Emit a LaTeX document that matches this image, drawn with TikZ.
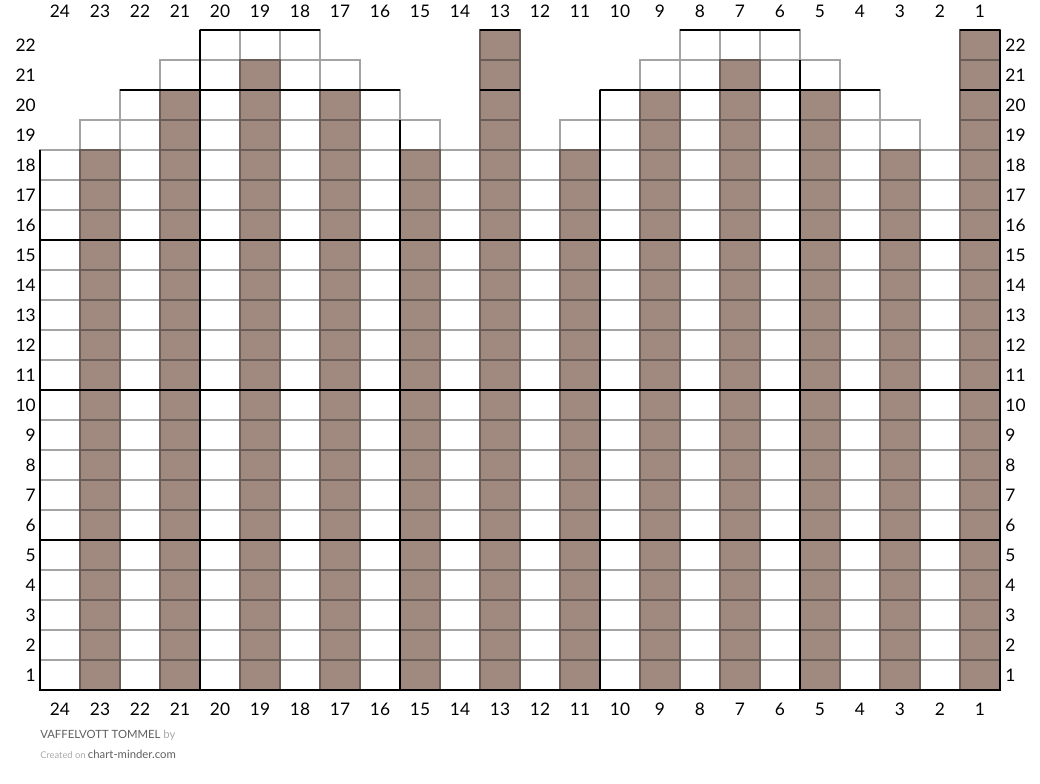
\documentclass[tikz,border=0pt]{standalone}
\usepackage{fontspec}
\setmainfont{Lato}
\usepackage{tikz}
\definecolor{cmBrown}{HTML}{A0897F}
\definecolor{cmGrid}{HTML}{A4A4A4}
\definecolor{cmGridDark}{HTML}{6A5C56}
\definecolor{cmTitle}{HTML}{5E5E5E}
\definecolor{cmFaint}{HTML}{A8A8A8}
\tikzset{
  stitch/.style={draw=cmGrid, line width=0.9pt},
  purl/.style={fill=cmBrown, draw=cmGridDark, line width=0.9pt},
  boldline/.style={draw=black, line width=2.1pt},
  numlabel/.style={font=\fontsize{13}{15}\selectfont, inner sep=0pt},
  footer/.style={anchor=base west, inner sep=0pt}
}

\begin{document}
\begin{tikzpicture}[x=30pt, y=22.5pt]
\useasboundingbox (-1,-3.1) rectangle (25,23);

% columns: number / height / purl height
\foreach \c/\h in {24/18,23/19,22/20,21/21,20/22,19/22,18/22,17/21,16/20,15/19,14/18,13/22,
                   12/18,11/19,10/20,9/21,8/22,7/22,6/22,5/21,4/20,3/19,2/18,1/22}{
  \foreach \r in {1,...,\h}
    \draw[stitch] (24-\c,\r-1) rectangle (25-\c,\r);
}
\foreach \c/\b in {23/18,21/20,19/21,17/20,15/18,13/22,11/18,9/20,7/21,5/20,3/18,1/22}{
  \foreach \r in {1,...,\b}
    \draw[purl] (24-\c,\r-1) rectangle (25-\c,\r);
}

% every fifth stitch and row
\foreach \c/\h in {20/22,15/19,10/20,5/21}
  \draw[boldline] (24-\c,0) -- (24-\c,\h);
\foreach \y in {5,10,15}
  \draw[boldline] (0,\y) -- (24,\y);
\draw[boldline] (2,20) -- (9,20) (11,20) -- (12,20) (14,20) -- (21,20) (23,20) -- (24,20);
\draw[boldline] (4,22) -- (7,22) (11,22) -- (12,22) (16,22) -- (19,22) (23,22) -- (24,22);
\draw[boldline] (0,18) -- (0,0) -- (24,0) -- (24,22);

% numbering
\foreach \c in {1,...,24}{
  \node[numlabel] (top-\c) at (24.5-\c,22.62) {\c};
  \node[numlabel] (bot-\c) at (24.5-\c,-0.63) {\c};
}
\foreach \r in {1,...,22}{
  \node[numlabel, anchor=east] (left-\r) at (-0.1,\r-0.5) {\r};
  \node[numlabel, anchor=west] (right-\r) at (24.13,\r-0.5) {\r};
}

\node[footer, font=\fontsize{8.5}{10}\selectfont] (title) at (0,-1.633)
  {\color{cmTitle}VAFFELVOTT TOMMEL \color{cmFaint}by};
\node[footer] (credit) at (0,-2.267)
  {\color{cmFaint}\fontsize{7}{9}\selectfont Created on \color{cmTitle}\fontsize{8.5}{10}\selectfont chart-minder.com};
\end{tikzpicture}
\end{document}
